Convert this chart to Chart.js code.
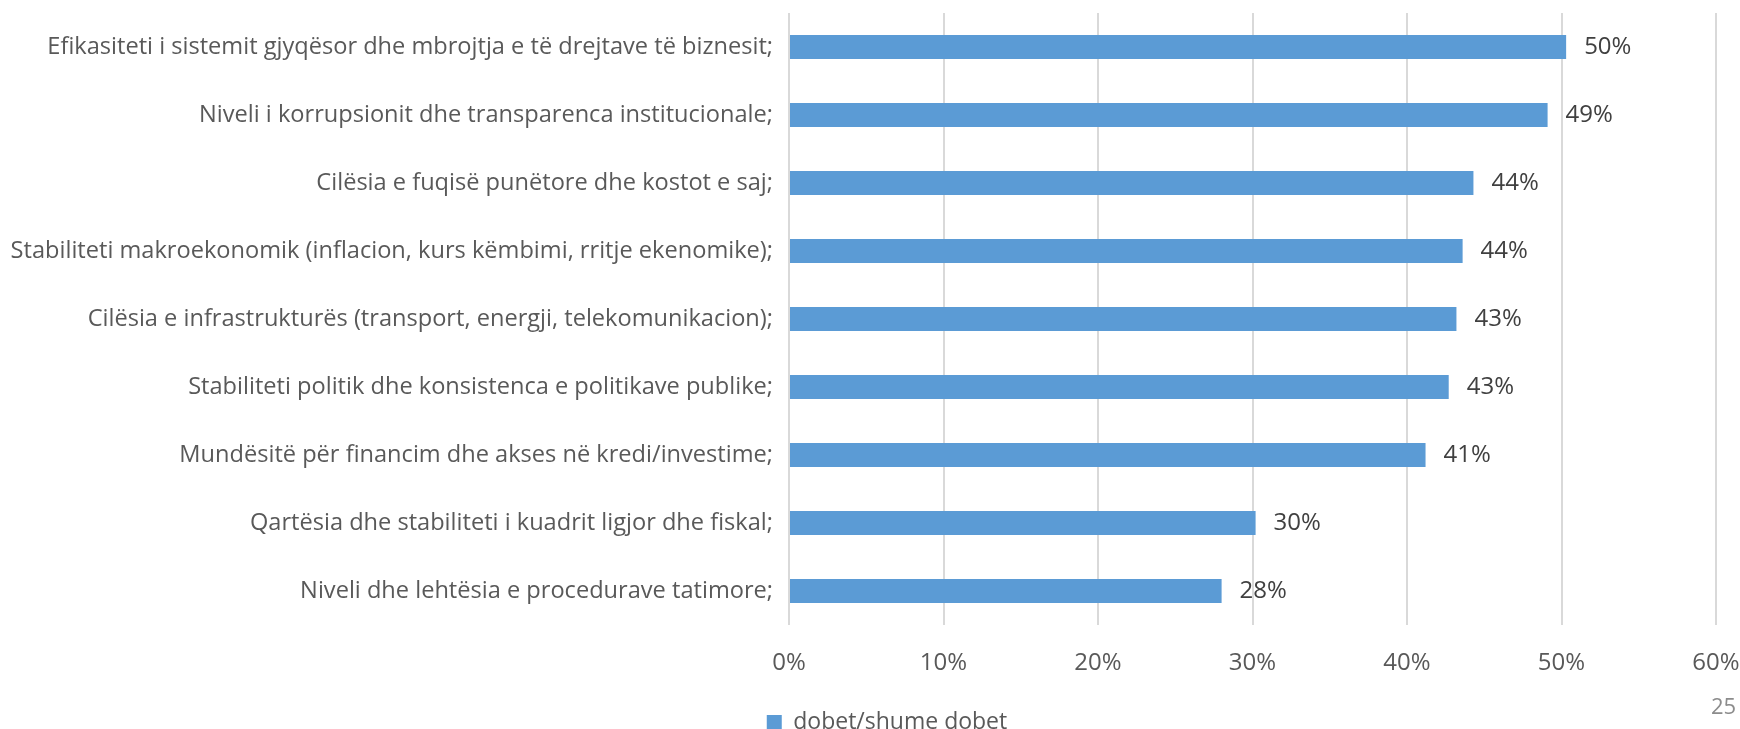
<!DOCTYPE html>
<html>
<head>
<meta charset="utf-8">
<script src="https://cdn.jsdelivr.net/npm/chart.js@4"></script>
<style>
  html, body { margin: 0; padding: 0; background: #fff; }
  #wrap { position: relative; width: 1740px; height: 729px; }
  #pageNo { position: absolute; left: 1711px; top: 690px; font-family: "Open Sans", sans-serif; font-size: 22px; color: #8c8c8c; }
</style>
</head>
<body>
<div id="wrap">
  <canvas id="chart" width="1740" height="729"></canvas>
  <div id="pageNo">25</div>
</div>
<script>
const categories = [
    'Efikasiteti i sistemit gjyqësor dhe mbrojtja e të drejtave të biznesit;',
    'Niveli i korrupsionit dhe transparenca institucionale;',
    'Cilësia e fuqisë punëtore dhe kostot e saj;',
    'Stabiliteti makroekonomik (inflacion, kurs këmbimi, rritje ekenomike);',
    'Cilësia e infrastrukturës (transport, energji, telekomunikacion);',
    'Stabiliteti politik dhe konsistenca e politikave publike;',
    'Mundësitë për financim dhe akses në kredi/investime;',
    'Qartësia dhe stabiliteti i kuadrit ligjor dhe fiskal;',
    'Niveli dhe lehtësia e procedurave tatimore;'
];
const values = [50.3, 49.1, 44.3, 43.6, 43.2, 42.7, 41.2, 30.2, 28.0];
const seriesName = 'dobet/shume dobet';
const xTicks = [0, 10, 20, 30, 40, 50, 60];

const FONT = '"Open Sans", sans-serif';

// etiketat e vlerave pas shiritave
const valueLabels = {
    id: 'valueLabels',
    afterDatasetsDraw(chart) {
        const ctx = chart.ctx;
        const meta = chart.getDatasetMeta(0);
        ctx.save();
        ctx.font = '24px ' + FONT;
        ctx.fillStyle = '#404040';
        ctx.textAlign = 'left';
        ctx.textBaseline = 'middle';
        meta.data.forEach((bar, i) => {
            ctx.fillText(Math.round(values[i]) + '%', bar.x + 18, bar.y);
        });
        ctx.restore();
    }
};

// legjenda pak me poshte dhe djathtas
const legendShift = {
    id: 'legendShift',
    afterLayout(chart) {
        const lg = chart.legend;
        lg.left += 29; lg.right += 29;
        lg.top += 15; lg.bottom += 15;
    }
};

new Chart(document.getElementById('chart'), {
    type: 'bar',
    data: {
        labels: categories,
        datasets: [{
            label: seriesName,
            data: values,
            backgroundColor: '#5b9bd5',
            borderWidth: 0,
            barPercentage: 0.352,
            categoryPercentage: 1
        }]
    },
    options: {
        indexAxis: 'y',
        responsive: false,
        animation: false,
        layout: { padding: { top: 13, right: 24, bottom: 0, left: 0 } },
        scales: {
            x: {
                min: 0,
                max: 60,
                afterBuildTicks: (axis) => { axis.ticks = xTicks.map(v => ({ value: v })); },
                afterFit: (axis) => {
                    axis.height = 71;
                    axis.paddingLeft = 0;
                    axis.paddingRight = 0;
                },
                grid: { color: '#d9d9d9', lineWidth: 2, drawTicks: false },
                border: { display: false },
                ticks: {
                    padding: 24,
                    color: '#595959',
                    font: { family: FONT, size: 24 },
                    callback: (v) => v + '%'
                }
            },
            y: {
                afterFit: (axis) => {
                    axis.width = 789;
                    axis.paddingTop = 0;
                    axis.paddingBottom = 0;
                },
                grid: { display: false, drawTicks: false },
                border: { display: false },
                ticks: {
                    padding: 16,
                    color: '#595959',
                    font: { family: FONT, size: 23.6 }
                }
            }
        },
        plugins: {
            legend: {
                position: 'bottom',
                labels: {
                    boxWidth: 15,
                    boxHeight: 15,
                    padding: 0,
                    color: '#595959',
                    font: { family: FONT, size: 23 }
                }
            },
            tooltip: { enabled: false }
        }
    },
    plugins: [valueLabels, legendShift]
});
</script>
</body>
</html>
